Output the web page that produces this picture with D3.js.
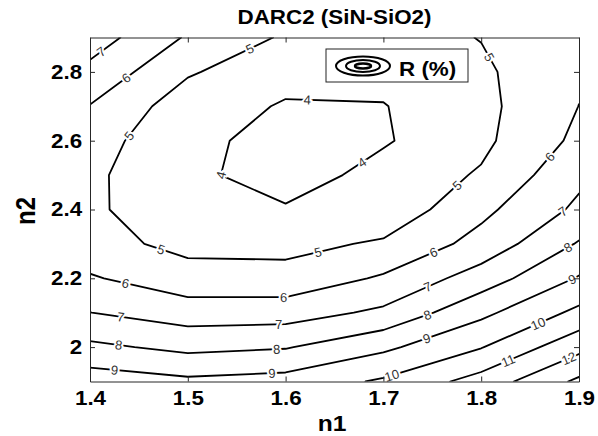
<!DOCTYPE html>
<html lang="en">
<head>
<meta charset="utf-8">
<title>DARC2 (SiN-SiO2)</title>
<script src="https://cdn.jsdelivr.net/npm/d3@7"></script>
<style>
  body { margin: 0; background: #fff; }
  text { font-family: Arial, "Liberation Sans", sans-serif; }
</style>
</head>
<body>
<script>

// simulation grid
var n1Values = [1.4, 1.5, 1.6, 1.7, 1.8, 1.9];
var n2Values = [1.9, 2.0, 2.1, 2.2, 2.3, 2.4, 2.5, 2.6, 2.7, 2.8, 2.9];

// reflectance R (%) - one row per n2 (bottom to top), one column per n1
var R = [
  [9.53, 9.20, 9.38, 10.14, 11.40, 13.20],  // n2 = 1.9
  [8.21, 7.75, 7.93, 8.79, 9.95, 11.70],    // 2.0
  [7.01, 6.50, 6.54, 7.20, 8.76, 10.24],    // 2.1
  [6.10, 5.40, 5.34, 6.13, 7.47, 9.08],     // 2.2
  [5.35, 4.72, 4.71, 5.13, 6.35, 8.09],     // 2.3
  [5.15, 4.40, 4.10, 4.31, 5.75, 7.20],     // 2.4
  [5.18, 4.25, 3.51, 4.35, 5.10, 6.77],     // 2.5
  [5.39, 4.30, 3.60, 3.90, 4.78, 6.23],     // 2.6
  [5.96, 4.45, 3.92, 3.96, 4.73, 6.01],     // 2.7
  [6.73, 5.11, 4.30, 4.30, 4.83, 5.85],     // 2.8
  [7.50, 5.89, 4.87, 4.60, 5.03, 5.90]      // 2.9
];

var levels = [4, 5, 6, 7, 8, 9, 10, 11, 12, 13];
var xTicks = [1.4, 1.5, 1.6, 1.7, 1.8, 1.9];
var yTicks = [2, 2.2, 2.4, 2.6, 2.8];

// inline contour labels: level and rough spot (n1, n2), snapped onto the line
var labelLevels = [7, 6, 5, 5, 4, 4, 4, 5, 5, 6, 7, 5, 5, 6, 6, 7, 7, 8, 8, 9, 9, 6, 7, 8, 9, 10, 8, 9, 10, 11, 12];
var labelN1 = [1.410, 1.438, 1.564, 1.441, 1.622, 1.531, 1.681, 1.809, 1.775, 1.872, 1.881,
               1.472, 1.633, 1.436, 1.598, 1.431, 1.593, 1.429, 1.591, 1.425, 1.586,
               1.751, 1.746, 1.746, 1.746, 1.708, 1.889, 1.894, 1.858, 1.828, 1.889];
var labelN2 = [2.864, 2.778, 2.864, 2.612, 2.716, 2.491, 2.524, 2.844, 2.471, 2.549, 2.404,
               2.277, 2.277, 2.181, 2.147, 2.082, 2.067, 2.001, 1.992, 1.931, 1.926,
               2.277, 2.171, 2.086, 2.011, 1.924, 2.288, 2.190, 2.069, 1.958, 1.971];

var W = 598, H = 436;
var plotL = 90, plotR = 579, plotT = 37.5, plotB = 381.5;
var stretch = 1.12; // the picture is a bit wider than tall

var svg = d3.select("body").append("svg")
            .attr("width", W)
            .attr("height", H)
            .style("display", "block");

var x = d3.scaleLinear().domain([1.4, 1.9]).range([plotL, plotR]);
var y = d3.scaleLinear().domain([1.9, 2.9]).range([plotB, plotT]);

// d3.contours puts sample k at k + 0.5
var nx = n1Values.length, ny = n2Values.length;
var gx = d3.scaleLinear().domain([0.5, nx - 0.5]).range([x(n1Values[0]), x(n1Values[nx - 1])]);
var gy = d3.scaleLinear().domain([0.5, ny - 0.5]).range([y(n2Values[0]), y(n2Values[ny - 1])]);

var flat = [];
R.forEach(function(row) { row.forEach(function(v) { flat.push(v); }); });

var contours = d3.contours().size([nx, ny]).thresholds(levels)(flat);

svg.append("clipPath").attr("id", "plot")
   .append("rect")
   .attr("x", plotL).attr("y", plotT)
   .attr("width", plotR - plotL).attr("height", plotB - plotT);

var ringPath = d3.line().x(function(p) { return gx(p[0]); }).y(function(p) { return gy(p[1]); });

var lines = svg.append("g").attr("clip-path", "url(#plot)");
contours.forEach(function(c) {
  c.coordinates.forEach(function(poly) {
    poly.forEach(function(ring) {
      lines.append("path")
           .attr("d", ringPath(ring) + "Z")
           .attr("fill", "none")
           .attr("stroke", "#000")
           .attr("stroke-width", 1.8)
           .attr("stroke-linejoin", "round");
    });
  });
});

// put a label on the nearest point of its contour, turned along the line
function snap(level, px, py) {
  var c = contours[levels.indexOf(level)];
  var best = { d: Infinity };
  c.coordinates.forEach(function(poly) {
    poly.forEach(function(ring) {
      for (var k = 0; k < ring.length - 1; k++) {
        var ax = gx(ring[k][0]), ay = gy(ring[k][1]);
        var bx = gx(ring[k + 1][0]), by = gy(ring[k + 1][1]);
        var dx = bx - ax, dy = by - ay, L = dx * dx + dy * dy;
        if (!L) continue;
        var t = Math.max(0, Math.min(1, ((px - ax) * dx + (py - ay) * dy) / L));
        var qx = ax + t * dx, qy = ay + t * dy;
        var d = (qx - px) * (qx - px) + (qy - py) * (qy - py);
        if (d < best.d) best = { d: d, x: qx, y: qy, a: Math.atan2(dy, dx) * 180 / Math.PI };
      }
    });
  });
  if (best.a > 90) best.a -= 180;
  if (best.a < -90) best.a += 180;
  return best;
}

var labels = svg.append("g");
labelLevels.forEach(function(lv, i) {
  var p = snap(lv, x(labelN1[i]), y(labelN2[i]));
  labels.append("text")
        .attr("transform", "translate(" + p.x + "," + p.y + ") rotate(" + p.a + ")")
        .attr("text-anchor", "middle")
        .attr("dy", "0.36em")
        .attr("font-size", 13)
        .attr("fill", "#333")
        .attr("stroke", "#fff")
        .attr("stroke-width", 4)
        .attr("paint-order", "stroke")
        .text(lv);
});

// box with inward ticks on all four sides
function styleAxis(g) {
  g.select(".domain").attr("stroke", "#262626");
  g.selectAll(".tick line").attr("stroke", "#262626");
  g.selectAll("text")
   .attr("font-size", 20)
   .attr("font-weight", "bold")
   .attr("fill", "#000")
   .attr("font-family", "Arial, 'Liberation Sans', sans-serif")
   .attr("transform", "scale(" + stretch + ",1)");
}

svg.append("g").attr("transform", "translate(0," + plotB + ")")
   .call(d3.axisBottom(x).tickValues(xTicks).tickSizeInner(-5).tickSizeOuter(0).tickPadding(9)
           .tickFormat(d3.format(".1f")))
   .call(styleAxis);
svg.append("g").attr("transform", "translate(0," + plotT + ")")
   .call(d3.axisTop(x).tickValues(xTicks).tickSizeInner(-5).tickSizeOuter(0).tickFormat(""))
   .call(styleAxis);
svg.append("g").attr("transform", "translate(" + plotL + ",0)")
   .call(d3.axisLeft(y).tickValues(yTicks).tickSizeInner(-5).tickSizeOuter(0).tickPadding(7)
           .tickFormat(function(d) { return d === 2 ? "2" : d3.format(".1f")(d); }))
   .call(styleAxis);
svg.append("g").attr("transform", "translate(" + plotR + ",0)")
   .call(d3.axisRight(y).tickValues(yTicks).tickSizeInner(-5).tickSizeOuter(0).tickFormat(""))
   .call(styleAxis);

function boldText(tx, ty, size, txt, anchor, rot) {
  return svg.append("text")
            .attr("transform", "translate(" + tx + "," + ty + ") scale(" + stretch + ",1)" + (rot ? " rotate(" + rot + ")" : ""))
            .attr("text-anchor", anchor || "middle")
            .attr("font-size", size)
            .attr("font-weight", "bold")
            .attr("fill", "#000")
            .text(txt);
}

boldText((plotL + plotR) / 2, 24, 20, "DARC2 (SiN-SiO2)");
boldText(332, 431, 22, "n1");
boldText(35, 211, 24, "n2", "middle", -90);

// legend
var leg = svg.append("g");
leg.append("rect")
   .attr("x", 326).attr("y", 49).attr("width", 142).attr("height", 33)
   .attr("fill", "#fff").attr("stroke", "#222").attr("stroke-width", 1);
[[27, 9.5, 2], [17, 6, 2], [8, 2.5, 2.5]].forEach(function(e) {
  leg.append("ellipse")
     .attr("cx", 363).attr("cy", 66).attr("rx", e[0]).attr("ry", e[1])
     .attr("fill", "none").attr("stroke", "#000").attr("stroke-width", e[2]);
});
leg.append("text")
   .attr("transform", "translate(399,76) scale(" + stretch + ",1)")
   .attr("font-size", 20).attr("font-weight", "bold").attr("fill", "#000")
   .text("R (%)");

</script>
</body>
</html>
